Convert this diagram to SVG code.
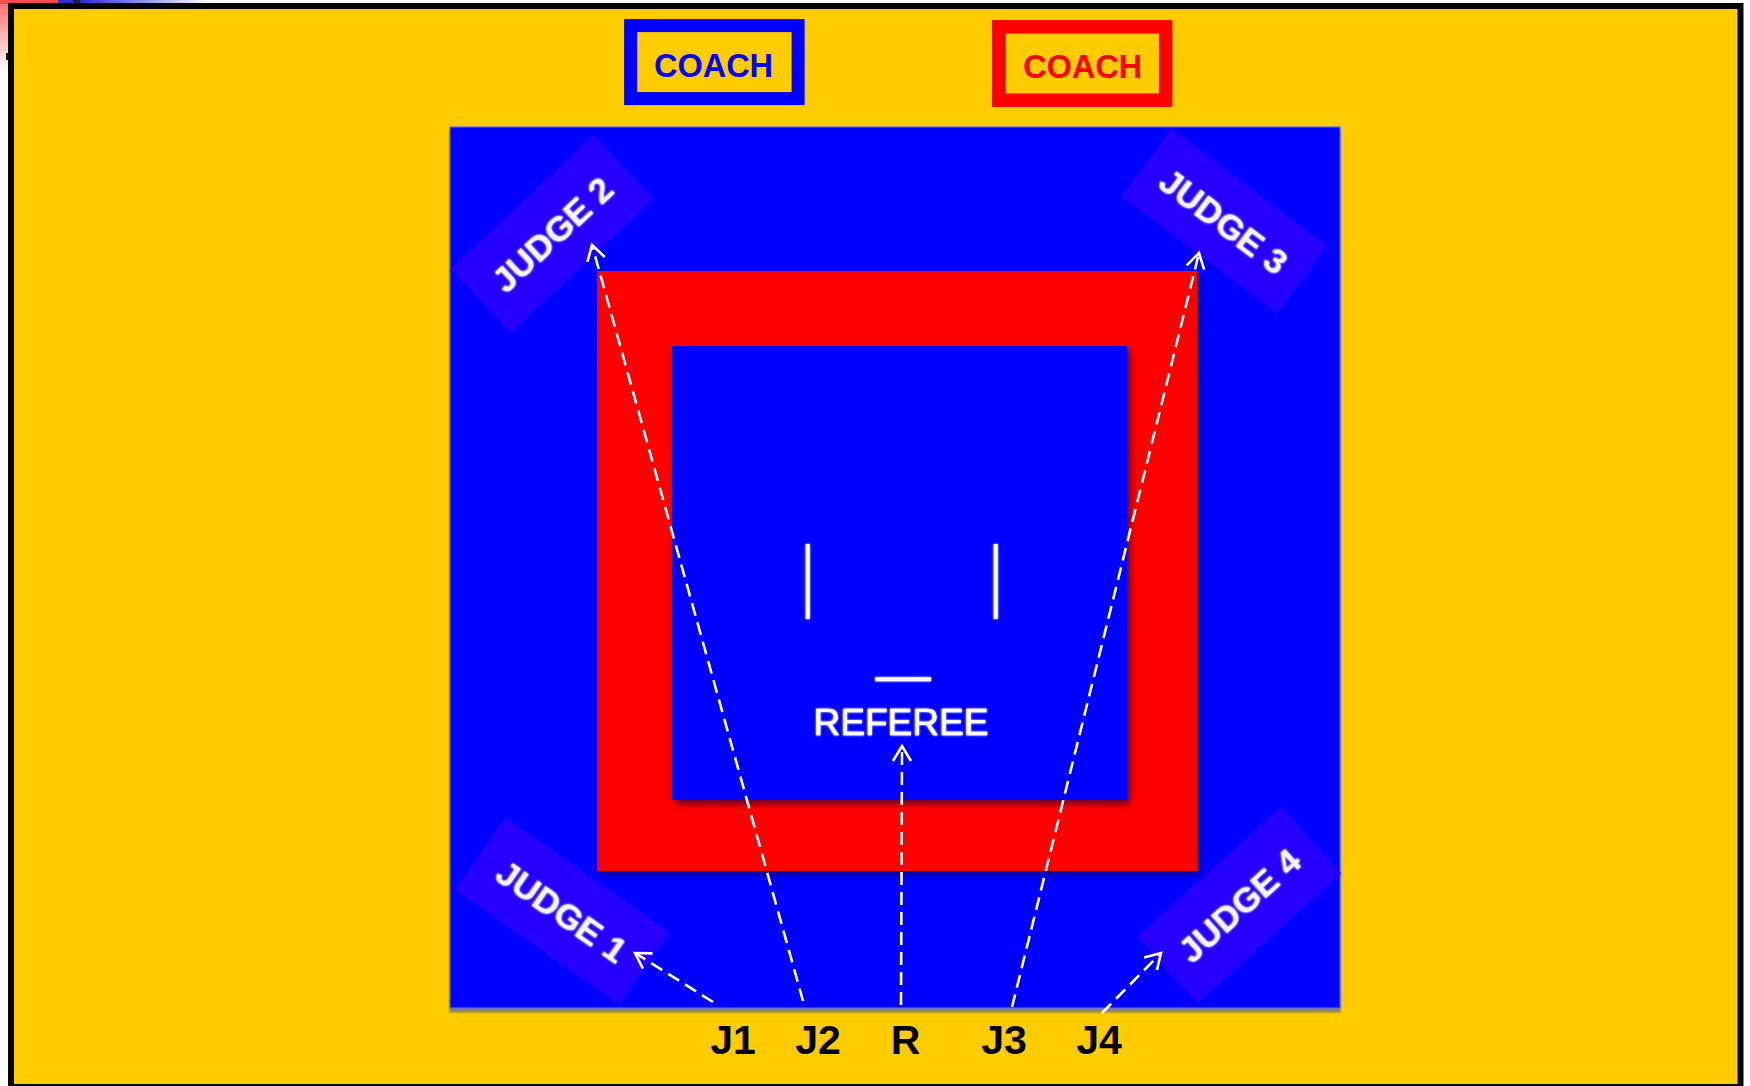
<svg xmlns="http://www.w3.org/2000/svg" width="1750" height="1086" viewBox="0 0 1750 1086">
<style>
.coach{font-family:"Liberation Sans",Arial,sans-serif;font-weight:bold;font-size:32.5px;text-anchor:middle}
.judge{font-family:"Liberation Sans",Arial,sans-serif;font-weight:bold;font-size:35px;fill:#f4f4ff;text-anchor:middle}
.jbox{fill:#2600ff}
.lbl{font-family:"Liberation Sans",Arial,sans-serif;font-weight:bold;font-size:41px;fill:#000000;text-anchor:middle}
.conn{stroke:#ffffff;stroke-width:2.6;stroke-dasharray:13 7;fill:none}
</style>
<defs>
<linearGradient id="pink" x1="0" y1="0" x2="0" y2="1"><stop offset="0" stop-color="#ff6a6a"/><stop offset="1" stop-color="#ffffff"/></linearGradient>
<linearGradient id="bluefade" x1="0" y1="0" x2="1" y2="0"><stop offset="0" stop-color="#2a2ad8"/><stop offset="1" stop-color="#ffffff"/></linearGradient>
<filter id="matShadow" x="-5%" y="-5%" width="110%" height="110%"><feDropShadow dx="0" dy="4" stdDeviation="1.2" flood-color="#707070" flood-opacity="0.8"/></filter>
<filter id="sqShadow" x="-5%" y="-5%" width="115%" height="115%"><feDropShadow dx="3" dy="4" stdDeviation="3" flood-color="#000040" flood-opacity="0.6"/></filter>
<filter id="glow" x="-10%" y="-30%" width="120%" height="160%"><feGaussianBlur in="SourceGraphic" stdDeviation="1.3" result="b"/><feMerge><feMergeNode in="b"/><feMergeNode in="SourceGraphic"/></feMerge></filter>
<marker id="arr" markerUnits="userSpaceOnUse" markerWidth="30" markerHeight="30" viewBox="-20 -15 30 30" refX="0" refY="0" orient="auto">
<path d="M -15 -9 L 0 0 L -15 9" fill="none" stroke="#ffffff" stroke-width="2.6"/>
</marker>
</defs>
<rect width="1750" height="1086" fill="#ffffff"/>
<rect x="0" y="0" width="14" height="72" fill="url(#pink)"/>
<rect x="0" y="0" width="58" height="4" fill="#ff4a4a"/>
<rect x="58" y="0" width="15" height="4" fill="#3030d0"/>
<rect x="73" y="0" width="7" height="4" fill="#222222"/>
<rect x="80" y="0" width="130" height="4" fill="url(#bluefade)"/>
<rect x="6" y="53" width="3" height="7" fill="#111111"/>
<rect id="arena" x="11" y="6" width="1729.5" height="1081" fill="#ffcc00" stroke="#000000" stroke-width="6"/>

<g id="coach-blue">
<rect x="630.6" y="25.6" width="167.5" height="73" fill="#ffcc00" stroke="#0000ff" stroke-width="13"/>
<text class="coach" x="713.5" y="76.5" fill="#0000ff">COACH</text>
</g>
<g id="coach-red">
<rect x="998.8" y="26.8" width="166.8" height="73.4" fill="#ffcc00" stroke="#ff0000" stroke-width="13.5"/>
<text class="coach" x="1082.5" y="78" fill="#ff0000">COACH</text>
</g>

<g id="mat">
<rect x="450" y="127" width="890" height="881" fill="#0000ff" stroke="#4a6cff" stroke-width="1.2" filter="url(#matShadow)"/>
</g>
<g id="red-zone">
<rect x="597" y="271" width="600" height="600" fill="#ff0000" filter="url(#sqShadow)"/>
</g>
<g id="ring">
<rect x="672" y="346" width="455" height="454" fill="#0000ff" filter="url(#sqShadow)"/>
<g filter="url(#glow)">
<line x1="807.7" y1="544" x2="807.7" y2="619" stroke="#ffffff" stroke-width="4"/>
<line x1="995.7" y1="544" x2="995.7" y2="619" stroke="#ffffff" stroke-width="4"/>
<line x1="875" y1="679.3" x2="931" y2="679.3" stroke="#ffffff" stroke-width="4"/>
</g>
</g>
<g id="referee">
<text x="901" y="735" font-family="'Liberation Sans',Arial,sans-serif" font-size="37" fill="#ffffff" stroke="#ffffff" stroke-width="0.6" text-anchor="middle" filter="url(#glow)">REFEREE</text>
</g>

<g id="judge2" transform="translate(552,234) rotate(-43)">
<rect class="jbox" x="-98" y="-44" width="196" height="88"/>
<text class="judge" x="0" y="13" filter="url(#glow)">JUDGE 2</text>
</g>
<g id="judge3" transform="translate(1224,221) rotate(37)">
<rect class="jbox" x="-97.5" y="-42" width="195" height="84"/>
<text class="judge" x="0" y="13" filter="url(#glow)">JUDGE 3</text>
</g>
<g id="judge1" transform="translate(562,911) rotate(35)">
<rect class="jbox" x="-100" y="-44" width="200" height="88"/>
<text class="judge" x="0" y="13" filter="url(#glow)">JUDGE 1</text>
</g>
<g id="judge4" transform="translate(1239,905) rotate(-42)">
<rect class="jbox" x="-97" y="-45" width="194" height="90"/>
<text class="judge" x="0" y="13" filter="url(#glow)">JUDGE 4</text>
</g>

<g id="connectors">
<line class="conn" x1="713" y1="1002" x2="635" y2="953" marker-end="url(#arr)"/>
<line class="conn" x1="803" y1="1001" x2="592" y2="245" marker-end="url(#arr)"/>
<line class="conn" x1="901" y1="1005" x2="902" y2="746" marker-end="url(#arr)"/>
<line class="conn" x1="1012" y1="1007" x2="1199" y2="253" marker-end="url(#arr)"/>
<line class="conn" x1="1102" y1="1013" x2="1161" y2="953" marker-end="url(#arr)"/>
</g>

<g id="labels">
<text class="lbl" x="733" y="1054">J1</text>
<text class="lbl" x="818" y="1054">J2</text>
<text class="lbl" x="905.5" y="1054">R</text>
<text class="lbl" x="1004" y="1054">J3</text>
<text class="lbl" x="1099" y="1054">J4</text>
</g>
</svg>
